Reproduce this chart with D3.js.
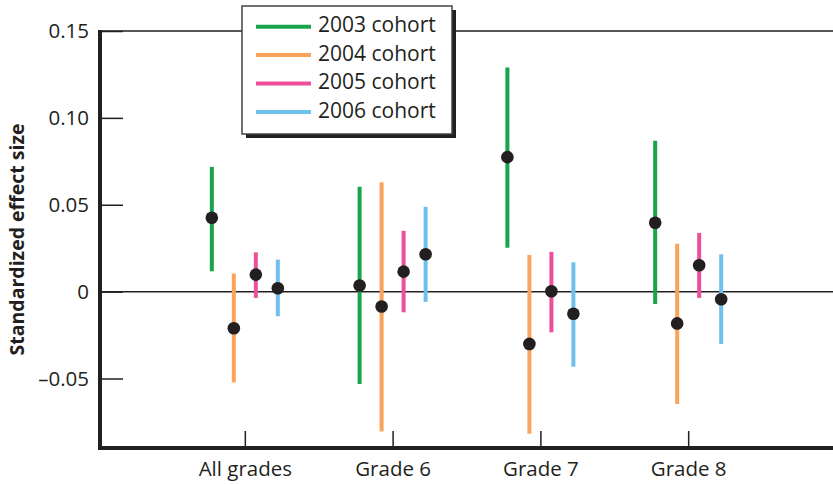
<!DOCTYPE html>
<html>
<head>
<meta charset="utf-8">
<script src="https://cdn.jsdelivr.net/npm/d3@7"></script>
<style>
    body { margin: 0; background: #fff; }
    text { font-family: "Open Sans", sans-serif; fill: #231f20; }
</style>
</head>
<body>
<div id="chart"></div>
<script>
// Data

const grades = ["All grades", "Grade 6", "Grade 7", "Grade 8"];
const cohorts = ["2003 cohort", "2004 cohort", "2005 cohort", "2006 cohort"];
const colors = ["#1ba34c", "#f9a35d", "#ed4f9b", "#6dc1ea"];

// effect estimate per cohort, one value per grade group
const estimate = [
    [0.0425, 0.0035, 0.0774, 0.0396],
    [-0.0211, -0.0086, -0.0301, -0.0183],
    [0.0098, 0.0115, 0.0002, 0.0152],
    [0.0019, 0.0215, -0.0127, -0.0044]
];
const upper = [
    [0.0718, 0.0603, 0.1290, 0.0868],
    [0.0104, 0.0630, 0.0211, 0.0276],
    [0.0226, 0.0350, 0.0229, 0.0338],
    [0.0184, 0.0488, 0.0169, 0.0215]
];
const lower = [
    [0.0117, -0.0532, 0.0252, -0.0071],
    [-0.0522, -0.0805, -0.0818, -0.0647],
    [-0.0036, -0.0119, -0.0234, -0.0036],
    [-0.0142, -0.0059, -0.0432, -0.0301]
];

const yTicks = [-0.05, 0, 0.05, 0.10, 0.15];
const yTickLabels = ["\u20130.05", "0", "0.05", "0.10", "0.15"];

const width = 833, height = 484;
const margin = { top: 31, right: 0, bottom: 36, left: 100 };

const svg = d3.select("#chart")
    .append("svg")
    .attr("width", width)
    .attr("height", height);

// Scales

const x = d3.scalePoint()
    .domain(grades)
    .range([margin.left, width - margin.right])
    .padding(0.98);

const xInner = d3.scalePoint()
    .domain(cohorts)
    .range([-33, 33]);

const y = d3.scaleLinear()
    .domain([-0.09, 0.15])
    .range([height - margin.bottom, margin.top]);

// Reference lines at 0 and 0.15

svg.selectAll("line.ref")
    .data([0, 0.15])
    .join("line")
    .attr("class", "ref")
    .attr("x1", margin.left)
    .attr("x2", width)
    .attr("y1", d => y(d))
    .attr("y2", d => y(d))
    .attr("stroke", "#231f20")
    .attr("stroke-width", 1.5);

// Axes

const yAxis = svg.append("g")
    .attr("transform", `translate(${margin.left},0)`)
    .call(d3.axisLeft(y)
        .tickValues(yTicks)
        .tickFormat((d, i) => yTickLabels[i])
        .tickSize(-23)
        .tickPadding(11));

const xAxis = svg.append("g")
    .attr("transform", `translate(0,${y(-0.09)})`)
    .call(d3.axisBottom(x)
        .tickSize(-17)
        .tickPadding(13));

[yAxis, xAxis].forEach(g => {
    g.select(".domain").remove();
    g.selectAll(".tick line").attr("stroke", "#231f20").attr("stroke-width", 1.5);
    g.selectAll(".tick text")
        .style("font-family", "'Open Sans', sans-serif")
        .style("font-size", "20.5px")
        .attr("fill", "#231f20");
});

// thick frame lines
svg.append("line")
    .attr("x1", margin.left).attr("x2", margin.left)
    .attr("y1", y(0.15) - 1).attr("y2", y(-0.09) + 2)
    .attr("stroke", "#231f20").attr("stroke-width", 4);

svg.append("line")
    .attr("x1", margin.left - 2).attr("x2", width)
    .attr("y1", y(-0.09)).attr("y2", y(-0.09))
    .attr("stroke", "#231f20").attr("stroke-width", 4);

// Y axis title

svg.append("text")
    .attr("transform", `translate(19,${(y(0.15) + y(-0.09)) / 2}) rotate(-90)`)
    .attr("text-anchor", "middle")
    .attr("dominant-baseline", "middle")
    .style("font-size", "19.5px")
    .style("font-weight", "bold")
    .text("Standardized effect size");

// Error bars and points

const rows = [];
cohorts.forEach((c, ci) => {
    grades.forEach((g, gi) => {
        rows.push({
            cohort: c, grade: g, color: colors[ci],
            est: estimate[ci][gi], lo: lower[ci][gi], hi: upper[ci][gi]
        });
    });
});

svg.selectAll("line.bar")
    .data(rows)
    .join("line")
    .attr("class", "bar")
    .attr("x1", d => x(d.grade) + xInner(d.cohort))
    .attr("x2", d => x(d.grade) + xInner(d.cohort))
    .attr("y1", d => y(d.hi))
    .attr("y2", d => y(d.lo))
    .attr("stroke", d => d.color)
    .attr("stroke-width", 4);

svg.selectAll("circle.dot")
    .data(rows)
    .join("circle")
    .attr("class", "dot")
    .attr("cx", d => x(d.grade) + xInner(d.cohort))
    .attr("cy", d => y(d.est))
    .attr("r", 6.3)
    .attr("fill", "#231f20");

// Legend

const legend = { x: 242, y: 6, w: 210, h: 128, rowH: 28.4 };

svg.append("rect")
    .attr("x", legend.x + 4).attr("y", legend.y + 4)
    .attr("width", legend.w).attr("height", legend.h)
    .attr("fill", "#231f20");

svg.append("rect")
    .attr("x", legend.x).attr("y", legend.y)
    .attr("width", legend.w).attr("height", legend.h)
    .attr("fill", "#fff")
    .attr("stroke", "#444")
    .attr("stroke-width", 1.5);

const items = svg.selectAll("g.legend-item")
    .data(cohorts)
    .join("g")
    .attr("class", "legend-item")
    .attr("transform", (d, i) => `translate(${legend.x},${legend.y + 20.7 + i * legend.rowH})`);

items.append("line")
    .attr("x1", 14).attr("x2", 69)
    .attr("stroke", (d, i) => colors[i])
    .attr("stroke-width", 4);

items.append("text")
    .attr("x", 76)
    .attr("dominant-baseline", "middle")
    .style("font-size", "21px")
    .text(d => d);
</script>
</body>
</html>
